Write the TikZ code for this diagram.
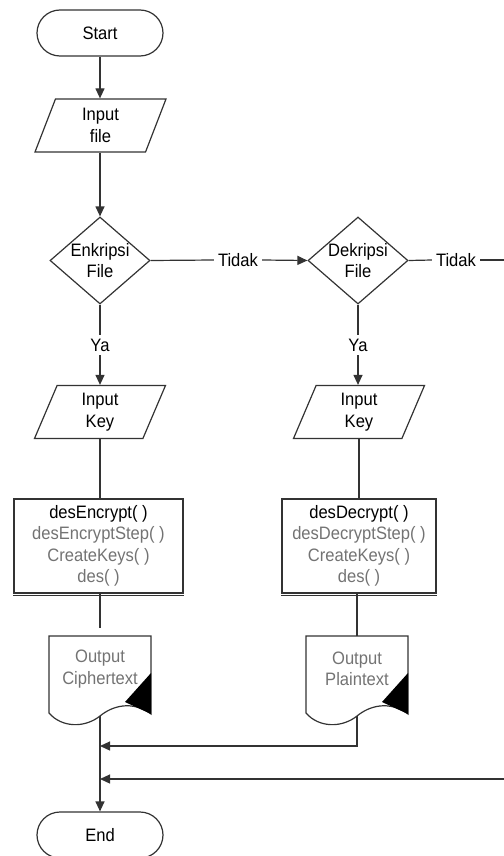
\documentclass[tikz,border=0pt]{standalone}
\usepackage{fontspec}
\setmainfont[FakeStretch=0.92]{Liberation Sans}
\usetikzlibrary{shapes.geometric,arrows.meta}
\begin{document}
\begin{tikzpicture}[x=1pt,y=-1pt,
  every node/.style={font=\fontsize{18}{21.5}\selectfont, text=black},
  line/.style={draw=black!80, line width=1.2pt},
  arr/.style={line, -{Triangle[length=10pt,width=9pt]}},
  term/.style={line, rectangle, rounded corners=23pt, minimum width=126pt, minimum height=46pt, inner sep=0pt},
  io/.style={line, trapezium, trapezium left angle=59, trapezium right angle=121, trapezium stretches body, minimum width=131pt, minimum height=53pt, inner sep=0pt, align=center},
  dec/.style={line, diamond, aspect=1.15, minimum width=100pt, minimum height=87pt, inner sep=0pt, align=center},
  proc/.style={line, rectangle, minimum height=94pt, inner sep=0pt, align=center},
  docn/.style={rectangle, minimum width=102pt, minimum height=66pt, inner sep=0pt, align=center, text=black!55},
  lbl/.style={inner sep=4pt},
]
\useasboundingbox (0,0) rectangle (503,856);

% nodes
\node[term] (start) at (100,33) {Start};
\node[io] (in1) at (100.5,125.5) {Input\\file};
\node[dec] (enc) at (100,260.5) {Enkripsi\\File};
\node[lbl] (tid1) at (238,260) {Tidak};
\node[dec] (dec) at (358,260.5) {Dekripsi\\File};
\node[lbl] (tid2) at (456,260) {Tidak};
\node[lbl] (ya1) at (100,345) {Ya};
\node[lbl] (ya2) at (358,345) {Ya};
\node[io] (key1) at (100,412) {Input\\Key};
\node[io] (key2) at (359,412) {Input\\Key};
\node[proc, minimum width=169pt] (proc1) at (98.5,546)
  {desEncrypt( )\\{\color{black!55}desEncryptStep( )}\\{\color{black!55}CreateKeys( )}\\{\color{black!55}des( )}};
\node[proc, minimum width=154pt] (proc2) at (359,546)
  {desDecrypt( )\\{\color{black!55}desDecryptStep( )}\\{\color{black!55}CreateKeys( )}\\{\color{black!55}des( )}};
\node[docn] (doc1) at (100,669) {Output\\Ciphertext};
\node[docn] (doc2) at (357,669) {Output\\Plaintext};
\node[term] (endn) at (100,835) {End};

% document shapes
\foreach \d in {doc1,doc2}{
  \draw[line, shift={(\d.center)}] (-51,-33) -- (51,-33) -- (51,45)
     .. controls (32,31) and (12,37) .. (0,47)
     .. controls (-15,59) and (-38,59) .. (-51,44) -- cycle;
  \fill[black, shift={(\d.center)}] (51,4) -- (25,33) -- (51,45) -- cycle;
}
% process box bottom shadow line
\foreach \p in {proc1,proc2}{
  \draw[line] ([yshift=-2pt]\p.south west) -- ([yshift=-2pt]\p.south east);
}

% coordinates
\coordinate (d1b) at (100,716);
\coordinate (d2b) at (357,716);
\coordinate (j1) at (100,746);
\coordinate (j2) at (100,779);
\coordinate (r1) at (507,260);
\coordinate (r2) at (507,779);

% connectors
\draw[arr] (start.south) -- (start.south |- in1.north);
\draw[arr] (in1.south -| enc.north) -- (enc.north);
\draw[line] (enc.east) -- (tid1.west);
\draw[arr] (tid1.east) -- (dec.west);
\draw[line] (dec.east) -- (tid2.west);
\draw[line] (tid2.east) -- (r1) -- (r2);
\draw[arr] (r2) -- (j2);
\draw[line] (enc.south) -- (ya1.north);
\draw[arr] (ya1.south) -- (ya1.south |- key1.north);
\draw[line] (dec.south) -- (ya2.north);
\draw[arr] (ya2.south) -- (ya2.south |- key2.north);
\draw[line] (key1.south) -- (key1.south |- proc1.north);
\draw[line] (key2.south) -- (key2.south |- proc2.north);
\draw[line, shorten >=8pt] (proc1.south -| doc1.north) -- (doc1.north);
\draw[line] (proc2.south -| doc2.north) -- (doc2.north);
\draw[arr] (d1b) -- (endn.north);
\draw[arr] (d2b) |- (j1);
\end{tikzpicture}
\end{document}
